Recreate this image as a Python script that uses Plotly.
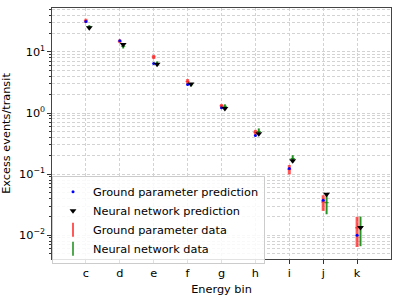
import plotly.graph_objects as go

categories = ["c", "d", "e", "f", "g", "h", "i", "j", "k"]
ground_pred = [31.5, 15.3, 6.5, 2.94, 1.22, 0.43, 0.124, 0.0375, 0.010]
nn_pred = [25.0, 13.2, 6.3, 2.98, 1.19, 0.457, 0.165, 0.047, 0.0134]
ground_data = [32.5, 15.0, 8.3, 3.3, 1.31, 0.485, 0.12, 0.035, 0.0132]
ground_err = [2.5, 1.0, 0.65, 0.3, 0.09, 0.045, 0.021, 0.010, 0.0068]
nn_data = [26.0, 12.4, 6.5, 2.9, 1.29, 0.50, 0.18, 0.034, 0.0134]
nn_err = [1.5, 1.0, 0.5, 0.17, 0.10, 0.06, 0.024, 0.012, 0.0068]
y_ticks = [0.01, 0.1, 1, 10]
y_ticktext = ["10<sup>−2</sup>", "10<sup>−1</sup>", "10<sup>0</sup>", "10<sup>1</sup>"]

x_ground = list(range(len(categories)))
x_nn = [i + 0.1 for i in x_ground]

minor_vals = [m * 10.0 ** k for k in range(-3, 2) for m in range(2, 10)]

FONT = "DejaVu Sans"
RED = "rgba(255,0,0,0.65)"
GREEN = "rgba(0,128,0,0.85)"
fig = go.Figure()

# error bar traces (data)
fig.add_trace(go.Scatter(
    x=x_ground, y=ground_data, mode="markers", showlegend=False,
    marker=dict(symbol="line-ew", size=3, color=RED, line=dict(width=1, color=RED)),
    error_y=dict(type="data", array=ground_err, color=RED, thickness=3, width=0),
))
fig.add_trace(go.Scatter(
    x=x_nn, y=nn_data, mode="markers", showlegend=False,
    marker=dict(symbol="line-ew", size=3, color=GREEN, line=dict(width=1, color=GREEN)),
    error_y=dict(type="data", array=nn_err, color=GREEN, thickness=2, width=0),
))
# predictions
fig.add_trace(go.Scatter(
    x=x_ground, y=ground_pred, mode="markers", name="Ground parameter prediction",
    marker=dict(symbol="circle", size=3, color="blue"),
    legendrank=1,
))
fig.add_trace(go.Scatter(
    x=x_nn, y=nn_pred, mode="markers", name="Neural network prediction",
    marker=dict(symbol="triangle-down", size=6, color="black"),
    legendrank=2,
))
# legend entries for the data series
fig.add_trace(go.Scatter(
    x=[None], y=[None], mode="markers", name="Ground parameter data",
    marker=dict(symbol="line-ns-open", size=10, color=RED, line=dict(width=2, color=RED)),
    legendrank=3,
))
fig.add_trace(go.Scatter(
    x=[None], y=[None], mode="markers", name="Neural network data",
    marker=dict(symbol="line-ns-open", size=10, color=GREEN, line=dict(width=1.6, color=GREEN)),
    legendrank=4,
))

GRIDC = "#d3d3d3"
grid = dict(showgrid=True, gridcolor=GRIDC, gridwidth=0.6, griddash="3px,2px")

fig.update_layout(
    width=399, height=296,
    margin=dict(l=52, r=8, t=8, b=37),
    paper_bgcolor="white", plot_bgcolor="white",
    font=dict(family=FONT, size=11.3, color="black"),
    legend=dict(x=0.0, y=0.33, xanchor="left", yanchor="top",
                bgcolor="rgba(255,255,255,0.85)", bordercolor="#cccccc", borderwidth=1,
                font=dict(size=11.3), tracegroupgap=0, itemwidth=30),
    xaxis=dict(
        range=[-1, 9], tickmode="array", tickvals=x_ground, ticktext=categories,
        ticks="outside", ticklen=3.5, tickcolor="#333", showline=True, linecolor="#444", linewidth=1.2,
        mirror=True, zeroline=False, automargin=False,
        title=dict(text="Energy bin", font=dict(size=11.3)),
        **grid,
    ),
    yaxis=dict(
        type="log", range=[-2.39, 1.72], tickmode="array", tickvals=y_ticks, ticktext=y_ticktext,
        ticks="outside", ticklen=3.5, tickcolor="#333", showline=True, linecolor="#444", linewidth=1.2,
        mirror=True, zeroline=False, automargin=False,
        title=dict(text="Excess events/transit", font=dict(size=11.3)),
        minor=dict(tickmode="array", tickvals=minor_vals, ticks="outside", ticklen=2, tickcolor="#333",
                   showgrid=True, gridcolor=GRIDC, gridwidth=0.6, griddash="3px,2px"),
        **grid,
    ),
)

fig.write_html("out.html", config={"displayModeBar": False},
               post_script="document.body.style.margin='0';document.body.style.overflow='hidden';")
